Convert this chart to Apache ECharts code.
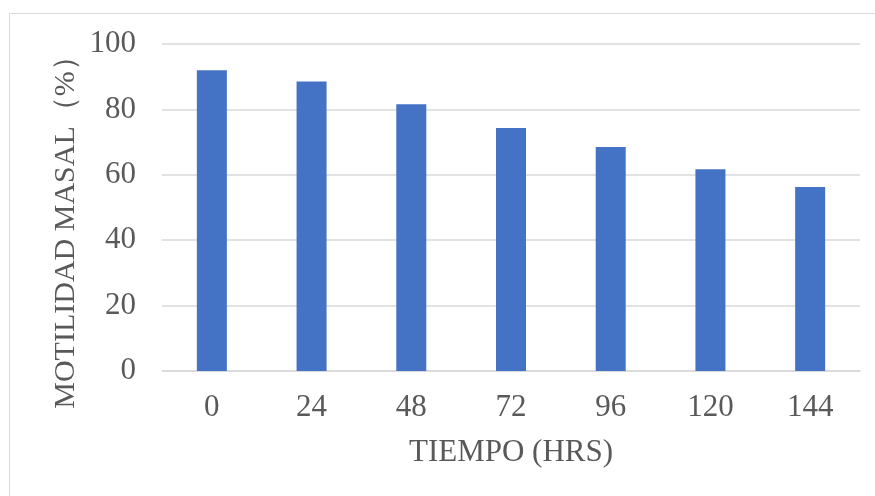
<!DOCTYPE html>
<html>
<head>
<meta charset="utf-8">
<script src="https://cdn.jsdelivr.net/npm/echarts@6/dist/echarts.min.js"></script>
<style>
  html, body { margin: 0; padding: 0; background: #ffffff; }
  #chart { width: 875px; height: 496px; }
</style>
</head>
<body>
<div id="chart"></div>
<script>
// Hours after collection
const hours = ['0', '24', '48', '72', '96', '120', '144'];
// Mass motility (%)
const motility = [92, 88.5, 81.6, 74.3, 68.5, 61.7, 56.3];
// Value axis ticks
const yMin = 0, yMax = 100, yStep = 20;

const serif = '"Liberation Serif", "Times New Roman", serif';
const textColor = '#595959';
const gridColor = '#d9d9d9';

const chart = echarts.init(document.getElementById('chart'), null, { renderer: 'canvas' });

chart.setOption({
  animation: false,
  backgroundColor: '#ffffff',
  grid: { left: 162, right: 15, top: 44, bottom: 125, containLabel: false },
  xAxis: {
    type: 'category',
    data: hours,
    name: 'TIEMPO (HRS)',
    nameLocation: 'middle',
    nameGap: 66,
    nameTextStyle: { fontFamily: serif, fontSize: 31, color: textColor },
    axisLine: { show: true, lineStyle: { color: gridColor, width: 1.5 } },
    axisTick: { show: false },
    axisLabel: { fontFamily: serif, fontSize: 31, color: textColor, margin: 21 }
  },
  yAxis: {
    type: 'value',
    min: yMin,
    max: yMax,
    interval: yStep,
    axisLine: { show: false },
    axisTick: { show: false },
    splitLine: { lineStyle: { color: gridColor, width: 1.5 } },
    axisLabel: { fontFamily: serif, fontSize: 31, color: textColor, margin: 26 }
  },
  series: [{
    type: 'bar',
    data: motility,
    barWidth: 30,
    itemStyle: { color: '#4472C4' }
  }],
  graphic: [
    {
      type: 'rect',
      shape: { x: 9.5, y: 13.5, width: 900, height: 520 },
      style: { fill: 'none', stroke: '#d9d9d9', lineWidth: 1 },
      silent: true,
      z: -1
    },
    {
      // rotated value-axis title
      type: 'text',
      x: 66,
      y: 225,
      rotation: Math.PI / 2,
      style: {
        text: 'MOTILIDAD MASAL（%）',
        font: '30px ' + serif,
        fill: textColor,
        align: 'center',
        verticalAlign: 'middle'
      }
    }
  ]
});
</script>
</body>
</html>
